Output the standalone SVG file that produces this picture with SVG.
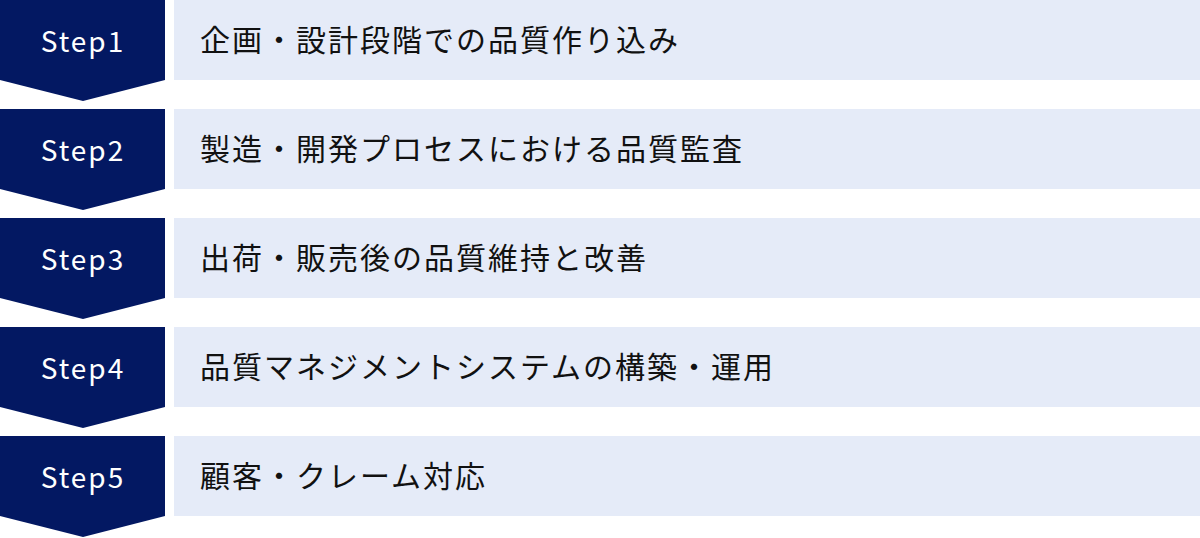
<svg xmlns="http://www.w3.org/2000/svg" width="1200" height="538" viewBox="0 0 1200 538">
<defs>
<style>
.badge{fill:#031862}
.panel{fill:#E5EBF8}
.step{fill:#FFFFFF;font-family:"Noto Sans CJK JP","Noto Sans",sans-serif;font-size:28px;letter-spacing:2px}
.label{fill:#111111;font-family:"Noto Sans CJK JP","Noto Sans",sans-serif;font-size:30px;letter-spacing:2px}
</style>
<path id="chev" d="M0 0H165V80L83 101L0 80Z"/>
</defs>
<rect width="1200" height="538" fill="#FFFFFF"/>
<g id="connectors"></g>
<g id="step1" transform="translate(0,0)">
<use href="#chev" class="badge"/>
<rect x="174" y="0" width="1026" height="80" class="panel"/>
<text x="83" y="52" text-anchor="middle" class="step">Step1</text>
<text x="200" y="51" class="label">企画・設計段階での品質作り込み</text>
</g>
<g id="step2" transform="translate(0,109)">
<use href="#chev" class="badge"/>
<rect x="174" y="0" width="1026" height="80" class="panel"/>
<text x="83" y="52" text-anchor="middle" class="step">Step2</text>
<text x="200" y="51" class="label">製造・開発プロセスにおける品質監査</text>
</g>
<g id="step3" transform="translate(0,218)">
<use href="#chev" class="badge"/>
<rect x="174" y="0" width="1026" height="80" class="panel"/>
<text x="83" y="52" text-anchor="middle" class="step">Step3</text>
<text x="200" y="51" class="label">出荷・販売後の品質維持と改善</text>
</g>
<g id="step4" transform="translate(0,327)">
<use href="#chev" class="badge"/>
<rect x="174" y="0" width="1026" height="80" class="panel"/>
<text x="83" y="52" text-anchor="middle" class="step">Step4</text>
<text x="200" y="51" class="label">品質マネジメントシステムの構築・運用</text>
</g>
<g id="step5" transform="translate(0,436)">
<use href="#chev" class="badge"/>
<rect x="174" y="0" width="1026" height="80" class="panel"/>
<text x="83" y="52" text-anchor="middle" class="step">Step5</text>
<text x="200" y="51" class="label">顧客・クレーム対応</text>
</g>
</svg>
